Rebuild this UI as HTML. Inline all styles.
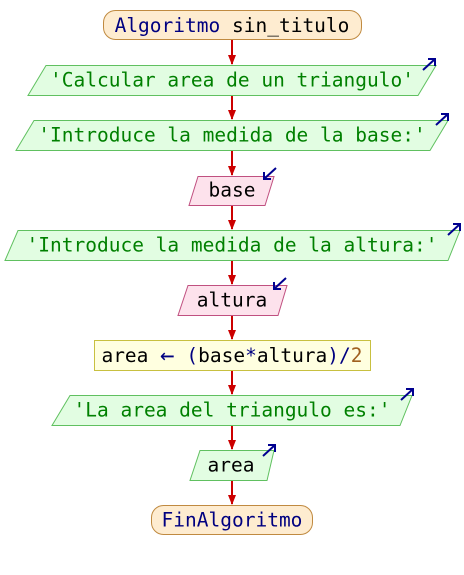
<!DOCTYPE html>
<html><head><meta charset="utf-8"><style>
html,body{margin:0;padding:0;background:#fff;}
svg text{font-family:"DejaVu Sans Mono","Liberation Mono",monospace;font-size:19.5px;dominant-baseline:central;text-anchor:middle;}
</style></head><body>
<svg width="464" height="570" viewBox="0 0 464 570" xmlns="http://www.w3.org/2000/svg">
<defs>
<marker id="ah" markerWidth="10" markerHeight="8" refX="9" refY="4" orient="auto" markerUnits="userSpaceOnUse">
<path d="M0,0 L10,4 L0,8 z" fill="#cc0000"/></marker>
</defs>
<g stroke="#cc0000" stroke-width="2" marker-end="url(#ah)">
<line x1="232" y1="40" x2="232" y2="64"/>
<line x1="232" y1="95" x2="232" y2="119"/>
<line x1="232" y1="150" x2="232" y2="175"/>
<line x1="232" y1="205" x2="232" y2="229"/>
<line x1="232" y1="260" x2="232" y2="284"/>
<line x1="232" y1="315" x2="232" y2="339"/>
<line x1="232" y1="370" x2="232" y2="394"/>
<line x1="232" y1="425" x2="232" y2="449"/>
<line x1="232" y1="480" x2="232" y2="504"/>
</g>
<rect x="103.5" y="10.5" width="258" height="29" rx="12" fill="#feecd0" stroke="#c08a40"/>
<text x="232" y="25"><tspan fill="#000080">Algoritmo</tspan> <tspan fill="#000">sin_titulo</tspan></text>

<polygon points="46,65.5 436,65.5 418,95.5 28,95.5" fill="#e2fde2" stroke="#60c060"/>
<text x="232" y="80" fill="#008000">'Calcular area de un triangulo'</text>
<polygon points="34,120.5 448,120.5 430,150.5 16,150.5" fill="#e2fde2" stroke="#60c060"/>
<text x="232" y="135" fill="#008000">'Introduce la medida de la base:'</text>
<polygon points="198,176.5 274,176.5 265,205.5 189,205.5" fill="#fde2ec" stroke="#c05080"/>
<text x="232" y="190" fill="#000">base</text>
<polygon points="18,230.5 460,230.5 448,260.5 5,260.5" fill="#e2fde2" stroke="#60c060"/>
<text x="232" y="245" fill="#008000">'Introduce la medida de la altura:'</text>
<polygon points="188,285.5 287,285.5 278,315.5 178,315.5" fill="#fde2ec" stroke="#c05080"/>
<text x="232" y="300" fill="#000">altura</text>
<rect x="94.5" y="340.5" width="276" height="30" fill="#ffffe0" stroke="#c8c040"/>
<text x="232" y="355"><tspan fill="#000">area</tspan> <tspan fill="#000080" font-size="24">←</tspan> <tspan fill="#000080">(</tspan><tspan fill="#000">base</tspan><tspan fill="#000080">*</tspan><tspan fill="#000">altura</tspan><tspan fill="#000080">)/</tspan><tspan fill="#a06020">2</tspan></text>
<polygon points="70,395.5 412,395.5 400,425.5 52,425.5" fill="#e2fde2" stroke="#60c060"/>
<text x="232" y="410" fill="#008000">'La area del triangulo es:'</text>
<polygon points="200,450.5 274,450.5 267,480.5 190,480.5" fill="#e2fde2" stroke="#60c060"/>
<text x="231" y="465" fill="#000">area</text>
<rect x="151.5" y="505.5" width="161" height="29" rx="12" fill="#feecd0" stroke="#c08a40"/>
<text x="232" y="520" fill="#000080">FinAlgoritmo</text>

<g stroke="#000090" stroke-width="2" fill="none">
<path d="M423,70 L435,59 M428,59 L435,59 L435,66"/>
<path d="M436,125 L448,114 M441,114 L448,114 L448,121"/>
<path d="M448,235 L460,224 M453,224 L460,224 L460,231"/>
<path d="M401,400 L413,389 M406,389 L413,389 L413,396"/>
<path d="M263,456 L275,445 M268,445 L275,445 L275,452"/>
<path d="M276,168 L264,179 M264,172 L264,179 L271,179"/>
<path d="M286,278 L274,289 M274,282 L274,289 L281,289"/>
</g>
</svg>
</body></html>
